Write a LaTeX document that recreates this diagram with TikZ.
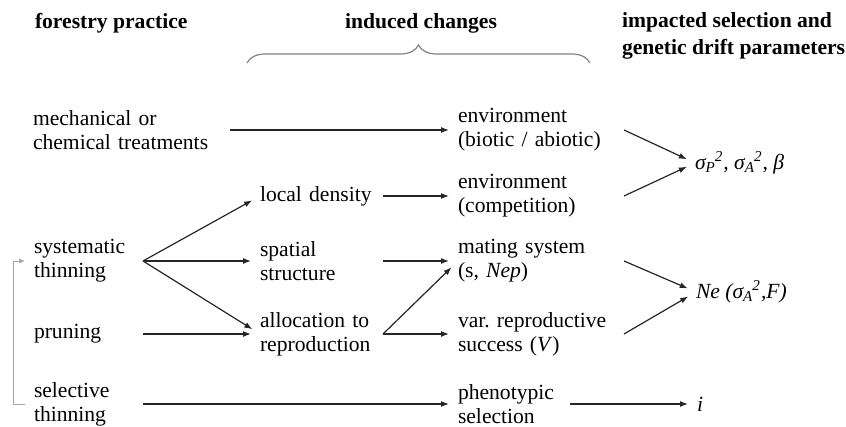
\documentclass[tikz,border=0pt]{standalone}
\usepackage{fontspec}
\setmainfont{Liberation Serif}
\usetikzlibrary{arrows.meta, decorations.pathreplacing}
\newcommand*{\lineCol}{black!85}
\newcommand*{\sigSq}[1]{σ\textsubscript{#1}\kern-0.5pt\textsuperscript{2}} % sigma with sub- and superscript
\tikzset{
    txt/.style={anchor=west, inner sep=0pt, outer sep=0pt, align=left, text width=#1, font=\fontsize{10.8}{12}\selectfont},
    lbl/.style={anchor=west, inner sep=0pt, outer sep=0pt, font=\fontsize{10.8}{12}\selectfont\itshape},
    head/.style={inner sep=0pt, outer sep=0pt, align=left, font=\fontsize{10.8}{13.5}\selectfont\bfseries},
    arr/.style={-{Latex[length=4pt,width=3pt]}, draw=\lineCol, line width=0.6pt, shorten >=4.5pt},
    loopArr/.style={-{Latex[length=3pt,width=2.5pt]}, draw=gray!70, line width=0.4pt, shorten >=4.5pt, shorten <=4.5pt},
}

\begin{document}
\begin{tikzpicture}[x=0.5pt, y=-0.5pt]
\useasboundingbox (0,0) rectangle (846,427);
% headers
\node[head, anchor=west] (hPrac) at (35,23) {forestry practice};
\node[head] (hChg) at (421,23) {induced changes};
\node[head, anchor=west] (hPar) at (622,36) {impacted selection and\\genetic drift parameters};
\draw[gray, line width=0.6pt, decorate, decoration={brace, amplitude=9pt}] (247,63) -- (590,63);
% forestry practices
\node[txt=98.5pt] (mech) at (33,130) {mechanical or\\chemical treatments};
\node[txt=54.5pt] (sysThin) at (34,261) {systematic\\thinning};
\node[txt=54.5pt] (prun) at (34,334) {pruning};
\node[txt=54.5pt] (selThin) at (34,404) {selective\\thinning};
% induced changes
\node[txt=61.5pt] (dens) at (260,196) {local density};
\node[txt=61.5pt] (spat) at (260,261) {spatial\\structure};
\node[txt=61.5pt] (alloc) at (260,334) {allocation to\\reproduction};
\node[txt=83pt] (envBio) at (458,130) {environment\\(biotic / abiotic)};
\node[txt=83pt] (envComp) at (458,196) {environment\\(competition)};
\node[txt=83pt] (mating) at (458,261) {mating system\\(s, \textit{Nep})};
\node[txt=83pt] (varRep) at (458,334) {var.\ reproductive\\success (\textit{V})};
\node[txt=56pt] (phen) at (458,404) {phenotypic\\selection};
% parameters
\node[lbl] (sigPar) at (695,163) {\sigSq{P}, \sigSq{A}, β};
\node[lbl] (nePar) at (696,292) {Ne (\sigSq{A},F)};
\node[lbl] (iPar) at (697,404) {i};
% connectors
\draw[arr] (mech.east) -- (envBio.west);
\draw[arr] (sysThin.east) -- (dens.west);
\draw[arr] (sysThin.east) -- (spat.west);
\draw[arr] (sysThin.east) -- (alloc.west);
\draw[arr] (prun.east) -- (alloc.west);
\draw[arr] (selThin.east) -- (phen.west);
\draw[arr] (dens.east) -- (envComp.west);
\draw[arr] (spat.east) -- (mating.west);
\draw[arr] (alloc.east) -- (mating.west);
\draw[arr] (alloc.east) -- (varRep.west);
\draw[arr] (envBio.east) -- (sigPar.west);
\draw[arr] (envComp.east) -- (sigPar.west);
\draw[arr] (mating.east) -- (nePar.west);
\draw[arr] (varRep.east) -- (nePar.west);
\draw[arr] (phen.east) -- (iPar.west);
\draw[loopArr] (selThin.west) -- ++(-21,0) |- (sysThin.west);
\end{tikzpicture}
\end{document}
